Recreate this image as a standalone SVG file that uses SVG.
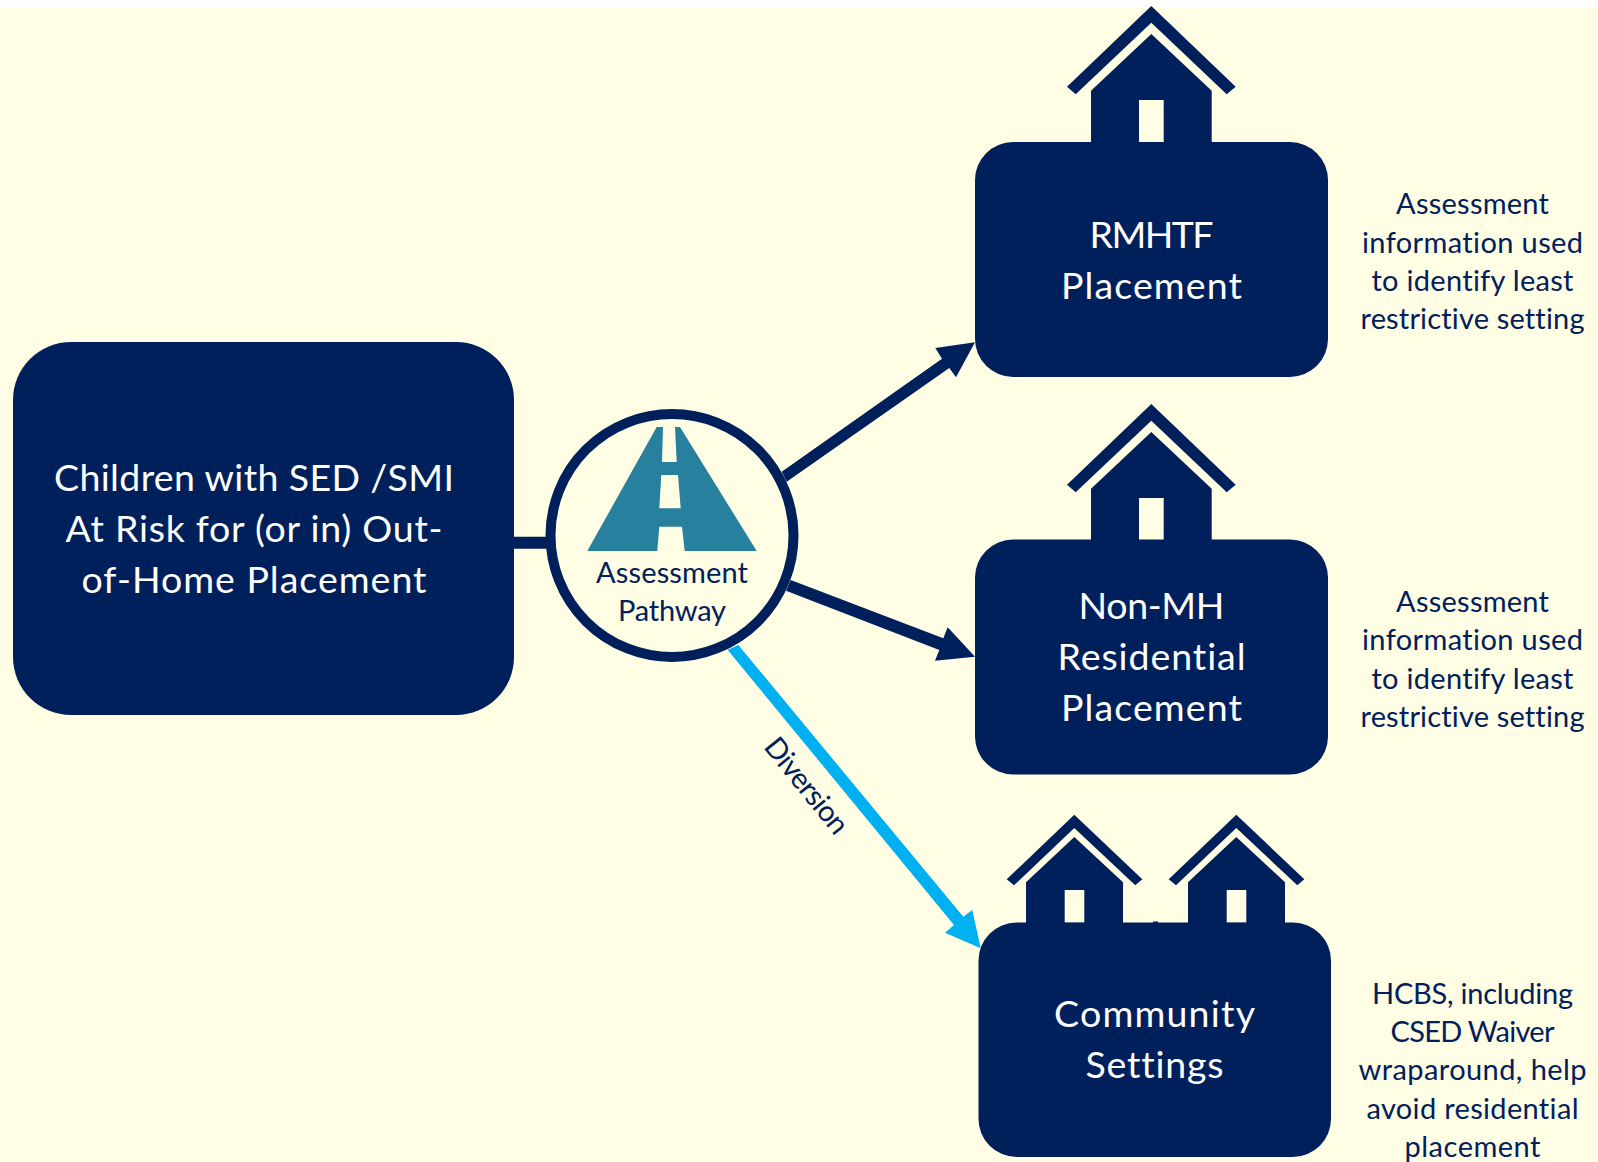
<svg xmlns="http://www.w3.org/2000/svg" width="1598" height="1162" viewBox="0 0 1598 1162">
<style>
.n{fill:#00205c}
.t{font-family:Lato,"Liberation Sans",sans-serif;text-anchor:middle;font-variant-ligatures:none}
.w{fill:#fff;font-size:37.5px}
.d{fill:#00205c;font-size:29px}
.bg{fill:#fffde3}
</style>
<defs>
<g id="house"><path class="n" d="M1151.3 6L1235.7 86.7 1226.7 94.3 1151.3 22.7 1075.7 94.3 1067 86.7Z"/><path class="n" fill-rule="evenodd" d="M1151.3 34L1211.7 90.7V146H1091V90.7ZM1139 100V142H1163.7V100Z"/></g>
<g id="smallhouse"><path class="n" d="M1074.3 814.7L1142.3 879.3 1135.3 885.3 1074.3 828 1014 885.3 1006.7 879.3Z"/><path class="n" fill-rule="evenodd" d="M1074.3 837L1123 882.3V926H1026V882.3ZM1064.7 890V922.7H1084.3V890Z"/></g>
</defs>
<rect width="1598" height="1162" fill="#fff"/>
<rect class="bg" y="8" width="1598" height="1154"/>
<g id="connectors">
<path class="n" d="M514 536.7H550V548.7H514Z"/>
<path class="n" d="M781.700 471.700L942 358.700 935.300 348 975 342.300 956 377.300 949.300 368 786.700 481.700Z"/>
<path class="n" d="M790.700 580L943.300 638.300 947.700 627.300 975 656.700 935 660.700 939.300 650 786 590.700Z"/>
<path fill="#00b0f0" d="M738.300 645L963.300 916.700 972.300 910 980.700 948.300 945 932.700 954 925 727.700 650Z"/>
</g>
<g id="main"><rect class="n" x="13" y="342" width="501" height="373" rx="58"/>
<text class="t w" x="254" y="490.500" textLength="400">Children with SED /SMI</text>
<text class="t w" x="254" y="541.500" textLength="377">At Risk for (or in) Out-</text>
<text class="t w" x="254" y="592.500" textLength="345">of-Home Placement</text></g>
<g id="pathway"><circle cx="672" cy="535.500" r="121.500" fill="#fffde3" stroke="#00205c" stroke-width="10"/>
<path fill="#26809e" d="M656.700 427H663L662 462H676.700L675 427H680L756.700 551H684.700L682 526.700H659.300L657.300 551H587.300ZM661.300 475H678L680.700 508.300H659.300Z" fill-rule="evenodd"/>
<text class="t d" x="672" y="582.700" textLength="152">Assessment</text>
<text class="t d" x="672" y="620.700" textLength="108">Pathway</text></g>
<g id="rmhtf"><use href="#house"/><rect class="n" x="975" y="142" width="353" height="235" rx="38"/>
<text class="t w" x="1151.500" y="247.500" textLength="124">RMHTF</text>
<text class="t w" x="1151.500" y="298.500" textLength="181">Placement</text></g>
<g id="nonmh"><use href="#house" y="398"/><rect class="n" x="975" y="539.500" width="353" height="235" rx="38"/>
<text class="t w" x="1151.500" y="619" textLength="146">Non-MH</text>
<text class="t w" x="1151.500" y="670" textLength="188">Residential</text>
<text class="t w" x="1151.500" y="721" textLength="181">Placement</text></g>
<g id="community"><use href="#smallhouse"/><use href="#smallhouse" x="162"/><rect class="n" x="978.500" y="922.500" width="352.500" height="234.500" rx="38"/><rect class="n" x="1153" y="921.500" width="5" height="2"/>
<text class="t w" x="1154.500" y="1026.500" textLength="201">Community</text>
<text class="t w" x="1154.500" y="1077.500" textLength="138">Settings</text></g>
<g id="note1"><text class="t d" x="1472.500" y="214" textLength="153">Assessment</text>
<text class="t d" x="1472.500" y="253" textLength="221">information used</text>
<text class="t d" x="1472.500" y="291" textLength="202">to identify least</text>
<text class="t d" x="1472.500" y="329" textLength="224">restrictive setting</text></g>
<g id="note2"><text class="t d" x="1472.500" y="612" textLength="153">Assessment</text>
<text class="t d" x="1472.500" y="650" textLength="221">information used</text>
<text class="t d" x="1472.500" y="689" textLength="202">to identify least</text>
<text class="t d" x="1472.500" y="727" textLength="224">restrictive setting</text></g>
<g id="note3"><text class="t d" x="1472.500" y="1004" textLength="201">HCBS, including</text>
<text class="t d" x="1472.500" y="1042" textLength="164">CSED Waiver</text>
<text class="t d" x="1472.500" y="1080" textLength="228">wraparound, help</text>
<text class="t d" x="1472.500" y="1119" textLength="212">avoid residential</text>
<text class="t d" x="1472.500" y="1157" textLength="136">placement</text></g>
<text id="diversion" class="t d" transform="translate(799 792) rotate(51)" textLength="115">Diversion</text>
</svg>
